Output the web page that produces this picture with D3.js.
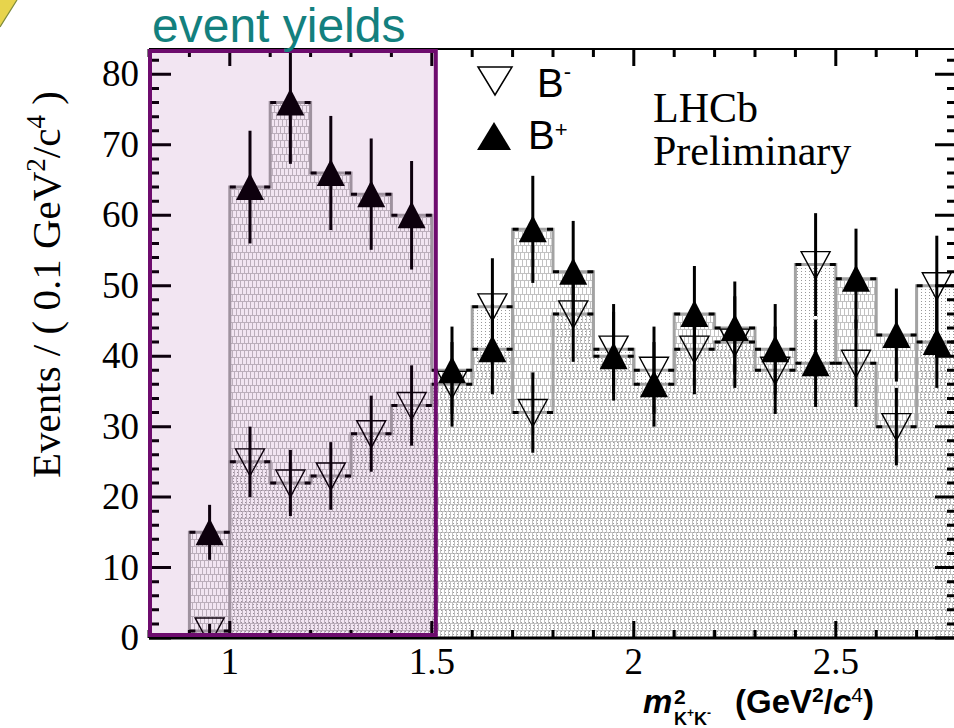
<!DOCTYPE html>
<html>
<head>
<meta charset="utf-8">
<script src="https://cdn.jsdelivr.net/npm/d3@7"></script>
<style>
  body { margin: 0; background: #fff; }
  svg { display: block; }
</style>
</head>
<body>
<svg id="chart" width="954" height="728"></svg>
<script>
// m^2(K+K-) bins, 0.1 GeV^2/c^4 wide
const binCenters = [0.95, 1.05, 1.15, 1.25, 1.35, 1.45, 1.55, 1.65, 1.75, 1.85,
                    1.95, 2.05, 2.15, 2.25, 2.35, 2.45, 2.55, 2.65, 2.75];
const binWidth = 0.1;

// B+ yields and uncertainties
const bPlus    = [15, 64, 76, 66, 63, 60, 38, 41, 58, 52, 40, 36, 46, 44, 41, 39, 51, 43, 42];
const bPlusErr = [3.9, 8.0, 8.7, 8.1, 7.9, 7.7, 6.2, 6.4, 7.6, 7.2, 6.3, 6.0, 6.8, 6.6, 6.4, 6.2, 7.1, 6.6, 6.5];

// B- yields and uncertainties
const bMinus    = [1, 25, 22, 23, 29, 33, 36, 47, 32, 46, 41, 38, 41, 42, 38, 53, 39, 30, 50];
const bMinusErr = [1.0, 5.0, 4.7, 4.8, 5.4, 5.7, 6.0, 6.9, 5.7, 6.8, 6.4, 6.2, 6.4, 6.5, 6.2, 7.3, 6.2, 5.5, 7.1];

// axis ticks
const xMajorTicks = [1, 1.5, 2, 2.5];
const xTickLabels = ["1", "1.5", "2", "2.5"];
const yMajorTicks = [0, 10, 20, 30, 40, 50, 60, 70, 80];
const yTickLabels = ["0", "10", "20", "30", "40", "50", "60", "70", "80"];

// highlighted low-mass window
const windowRange = [0.8, 1.5];

const svg = d3.select("#chart");
const x = d3.scaleLinear().domain([0.8, 2.8]).range([149, 957]);
const y = d3.scaleLinear().domain([0, 83.6]).range([638, 49]);
const [X0, X1] = x.range();
const [Y0, Y1] = y.range();

const defs = svg.append("defs");
defs.append("clipPath").attr("id", "plotClip")
  .append("rect").attr("x", X0).attr("y", Y1).attr("width", X1 - X0).attr("height", Y0 - Y1);

// brick hatch for B+
const brick = defs.append("pattern").attr("id", "brick")
  .attr("patternUnits", "userSpaceOnUse").attr("width", 8).attr("height", 14);
brick.append("rect").attr("width", 8).attr("height", 14).attr("fill", "#ffffff");
brick.append("path")
  .attr("d", "M0,0.5H8M0,7.5H8M0.5,0V7M4.5,0V7M2.5,7V14M6.5,7V14")
  .attr("stroke", "#c2c2c2").attr("stroke-width", 1).attr("fill", "none");

// dotted hatch for B-
const dots = defs.append("pattern").attr("id", "dots")
  .attr("patternUnits", "userSpaceOnUse").attr("width", 4).attr("height", 3);
dots.append("rect").attr("x", 1).attr("y", 1).attr("width", 1).attr("height", 1).attr("fill", "#9a9a9a");

// corner decoration
svg.append("path").attr("d", "M0,0H17L0,27Z").attr("fill", "#e7d44c");
svg.append("path").attr("d", "M17,0L0,27").attr("stroke", "#7d8a3a").attr("stroke-width", 1.2);

const plot = svg.append("g").attr("clip-path", "url(#plotClip)");

function stepPoints(vals) {
  const pts = [[binCenters[0] - binWidth / 2, 0]];
  vals.forEach((v, i) => {
    pts.push([binCenters[i] - binWidth / 2, v]);
    pts.push([binCenters[i] + binWidth / 2, v]);
  });
  pts.push([binCenters[binCenters.length - 1] + binWidth / 2, 0]);
  return pts;
}
const line = d3.line().x(d => x(d[0])).y(d => y(d[1]));

// filled histograms
plot.append("path").attr("d", line(stepPoints(bPlus)) + "Z").attr("fill", "url(#brick)");
plot.append("path").attr("d", line(stepPoints(bMinus)) + "Z").attr("fill", "url(#dots)");

// outlines
[bPlus, bMinus].forEach(vals => {
  plot.append("path").attr("d", line(stepPoints(vals)))
    .attr("fill", "none").attr("stroke", "#a3a3a3").attr("stroke-width", 3);
});

// black end marks on each bin top
[bPlus, bMinus].forEach(vals => {
  plot.append("g").selectAll("path").data(vals).join("path")
    .attr("d", (v, i) => {
      const xl = x(binCenters[i] - binWidth / 2), xr = x(binCenters[i] + binWidth / 2), yy = y(v);
      return `M${xl},${yy}H${xl + 6}M${xr - 6},${yy}H${xr}`;
    })
    .attr("stroke", "#000").attr("stroke-width", 3);
});

// error bars
function errBars(vals, errs) {
  plot.append("g").selectAll("line").data(vals).join("line")
    .attr("x1", (v, i) => x(binCenters[i])).attr("x2", (v, i) => x(binCenters[i]))
    .attr("y1", (v, i) => y(v + errs[i])).attr("y2", (v, i) => y(Math.max(0, v - errs[i])))
    .attr("stroke", "#000").attr("stroke-width", 3);
}
errBars(bMinus, bMinusErr);
errBars(bPlus, bPlusErr);

const upTri = "M-14,13L14,13L0,-14Z";
const downTri = "M-14.5,-13L14.5,-13L0,14Z";

plot.append("g").selectAll("path").data(bMinus).join("path")
  .attr("transform", (v, i) => `translate(${x(binCenters[i])},${y(v)})`)
  .attr("d", downTri).attr("fill", "none").attr("stroke", "#000").attr("stroke-width", 1.4);
plot.append("g").selectAll("path").data(bPlus).join("path")
  .attr("transform", (v, i) => `translate(${x(binCenters[i])},${y(v)})`)
  .attr("d", upTri).attr("fill", "#000");

// axes frame
const axes = svg.append("g");
axes.append("line").attr("x1", X0).attr("x2", X1).attr("y1", Y0).attr("y2", Y0)
  .attr("stroke", "#000").attr("stroke-width", 3);
axes.append("line").attr("x1", X0).attr("x2", X1).attr("y1", Y1).attr("y2", Y1)
  .attr("stroke", "#000").attr("stroke-width", 2);
axes.append("line").attr("x1", X0).attr("x2", X0).attr("y1", Y0).attr("y2", Y1)
  .attr("stroke", "#000").attr("stroke-width", 2);
axes.append("line").attr("x1", X1).attr("x2", X1).attr("y1", Y0).attr("y2", Y1)
  .attr("stroke", "#000").attr("stroke-width", 2);

const xMinor = d3.range(0.8, 2.81, 0.1).filter(t => !xMajorTicks.some(m => Math.abs(m - t) < 1e-6));
const yMinor = d3.range(0, 83, 2).filter(t => t % 10 !== 0);

function tickPath(list, len, horizontal) {
  return list.map(t => horizontal
    ? `M${x(t)},${Y0}V${Y0 - len}M${x(t)},${Y1}V${Y1 + len}`
    : `M${X0},${y(t)}H${X0 + len}M${X1},${y(t)}H${X1 - len}`).join("");
}
axes.append("path").attr("d", tickPath(xMajorTicks, 17, true) + tickPath(xMinor, 8, true))
  .attr("stroke", "#000").attr("stroke-width", 3);
axes.append("path").attr("d", tickPath(yMajorTicks, 22, false) + tickPath(yMinor, 10, false))
  .attr("stroke", "#000").attr("stroke-width", 3);

// tick labels
axes.append("g").selectAll("text").data(xMajorTicks).join("text")
  .attr("x", d => x(d)).attr("y", 674).attr("text-anchor", "middle")
  .attr("font-family", "Liberation Serif").attr("font-size", 37)
  .text((d, i) => xTickLabels[i]);
axes.append("g").selectAll("text").data(yMajorTicks).join("text")
  .attr("x", 139).attr("y", d => y(d) + 12).attr("text-anchor", "end")
  .attr("font-family", "Liberation Serif").attr("font-size", 37)
  .text((d, i) => yTickLabels[i]);

// y-axis title
const yTitle = svg.append("text")
  .attr("transform", "translate(60,478) rotate(-90)")
  .attr("font-family", "Liberation Serif").attr("font-size", 41);
yTitle.append("tspan").text("Events / ( 0.1 GeV");
yTitle.append("tspan").attr("font-size", 27).attr("dy", -15).text("2");
yTitle.append("tspan").attr("dy", 15).text("/c");
yTitle.append("tspan").attr("font-size", 27).attr("dy", -15).text("4");
yTitle.append("tspan").attr("dy", 15).text(" )");

// x-axis title
const xt = svg.append("g").attr("font-family", "Liberation Sans").attr("font-weight", "bold");
xt.append("text").attr("x", 643).attr("y", 713).attr("font-size", 33).attr("font-style", "italic").text("m");
xt.append("text").attr("x", 674).attr("y", 704).attr("font-size", 21).text("2");
const sub = xt.append("text").attr("x", 674).attr("y", 725).attr("font-size", 18);
sub.append("tspan").text("K");
sub.append("tspan").attr("font-size", 12).attr("dy", -8).text("+");
sub.append("tspan").attr("dy", 8).text("K");
sub.append("tspan").attr("font-size", 12).attr("dy", -8).text("-");
const unit = xt.append("text").attr("x", 735).attr("y", 713).attr("font-size", 33);
unit.append("tspan").text("(GeV");
unit.append("tspan").attr("font-size", 21).attr("dy", -11).text("2");
unit.append("tspan").attr("dy", 11).text("/");
unit.append("tspan").attr("font-style", "italic").text("c");
unit.append("tspan").attr("font-size", 21).attr("dy", -11).attr("font-weight", "normal").text("4");
unit.append("tspan").attr("dy", 11).text(")");

// legend
svg.append("path").attr("transform", "translate(495,81)").attr("d", "M-17,-14L17,-14L0,14Z")
  .attr("fill", "none").attr("stroke", "#000").attr("stroke-width", 1.5);
svg.append("path").attr("transform", "translate(494,136)").attr("d", "M-17,14L17,14L0,-14Z")
  .attr("fill", "#000");
const l1 = svg.append("text").attr("x", 537).attr("y", 97)
  .attr("font-family", "Liberation Sans").attr("font-size", 40);
l1.append("tspan").text("B");
l1.append("tspan").attr("font-size", 22).attr("dy", -18).text("-");
const l2 = svg.append("text").attr("x", 528).attr("y", 149)
  .attr("font-family", "Liberation Sans").attr("font-size", 40);
l2.append("tspan").text("B");
l2.append("tspan").attr("font-size", 22).attr("dy", -12).text("+");

svg.append("text").attr("x", 653).attr("y", 122)
  .attr("font-family", "Liberation Serif").attr("font-size", 42).text("LHCb");
svg.append("text").attr("x", 653).attr("y", 165)
  .attr("font-family", "Liberation Serif").attr("font-size", 42).text("Preliminary");

// highlighted window
svg.append("rect")
  .attr("x", x(windowRange[0]) + 1).attr("y", 51)
  .attr("width", x(windowRange[1]) - x(windowRange[0]) + 3).attr("height", 584)
  .attr("fill", "rgba(125,0,125,0.1)").attr("stroke", "#6e0c6e").attr("stroke-width", 4);

svg.append("text").attr("x", 152).attr("y", 42)
  .attr("font-family", "Liberation Sans").attr("font-size", 48)
  .attr("fill", "#13807e").text("event yields");
</script>
</body>
</html>
